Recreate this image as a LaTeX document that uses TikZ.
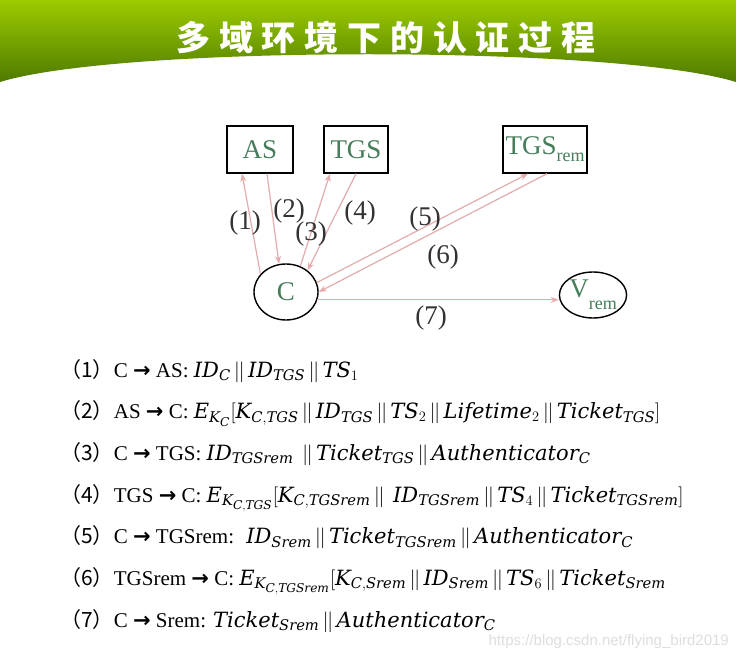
\documentclass[tikz,border=0pt]{standalone}
\usepackage{fontspec}
\setmainfont{Liberation Serif}
\newfontfamily\cjk{Noto Sans CJK SC}
\newfontfamily\symf{DejaVu Sans}
\newfontfamily\wmf{Liberation Sans}
\newfontfamily\dvs{DejaVu Serif}[NFSSFamily=dvsf]
\DeclareSymbolFont{dvsit}{TU}{dvsf}{m}{it}
\DeclareSymbolFont{dvsup}{TU}{dvsf}{m}{n}
\DeclareMathSymbol{A}{\mathalpha}{dvsit}{`A}
\DeclareMathSymbol{C}{\mathalpha}{dvsit}{`C}
\DeclareMathSymbol{D}{\mathalpha}{dvsit}{`D}
\DeclareMathSymbol{E}{\mathalpha}{dvsit}{`E}
\DeclareMathSymbol{G}{\mathalpha}{dvsit}{`G}
\DeclareMathSymbol{I}{\mathalpha}{dvsit}{`I}
\DeclareMathSymbol{K}{\mathalpha}{dvsit}{`K}
\DeclareMathSymbol{L}{\mathalpha}{dvsit}{`L}
\DeclareMathSymbol{S}{\mathalpha}{dvsit}{`S}
\DeclareMathSymbol{T}{\mathalpha}{dvsit}{`T}
\DeclareMathSymbol{a}{\mathalpha}{dvsit}{`a}
\DeclareMathSymbol{c}{\mathalpha}{dvsit}{`c}
\DeclareMathSymbol{e}{\mathalpha}{dvsit}{`e}
\DeclareMathSymbol{f}{\mathalpha}{dvsit}{`f}
\DeclareMathSymbol{h}{\mathalpha}{dvsit}{`h}
\DeclareMathSymbol{i}{\mathalpha}{dvsit}{`i}
\DeclareMathSymbol{k}{\mathalpha}{dvsit}{`k}
\DeclareMathSymbol{m}{\mathalpha}{dvsit}{`m}
\DeclareMathSymbol{n}{\mathalpha}{dvsit}{`n}
\DeclareMathSymbol{o}{\mathalpha}{dvsit}{`o}
\DeclareMathSymbol{r}{\mathalpha}{dvsit}{`r}
\DeclareMathSymbol{t}{\mathalpha}{dvsit}{`t}
\DeclareMathSymbol{u}{\mathalpha}{dvsit}{`u}
\DeclareMathSymbol{1}{\mathalpha}{dvsup}{`1}
\DeclareMathSymbol{2}{\mathalpha}{dvsup}{`2}
\DeclareMathSymbol{4}{\mathalpha}{dvsup}{`4}
\DeclareMathSymbol{6}{\mathalpha}{dvsup}{`6}
\renewcommand\defaultscriptscriptratio{.58}
\usetikzlibrary{arrows.meta,shapes.geometric}
\definecolor{hgtop}{RGB}{157,204,0}
\definecolor{hgbot}{RGB}{78,122,0}
\definecolor{nodegreen}{RGB}{70,125,90}
\definecolor{pinkc}{RGB}{228,172,172}
\definecolor{labgray}{RGB}{50,50,50}
\definecolor{wmgray}{RGB}{222,222,222}
\newcommand{\arr}{{\symf\bfseries →}}
\newcommand{\tsp}{\hspace{8.8pt}}
\newcommand{\vb}{\mathrel{\mkern-2mu|\mkern-1mu|\mkern-2mu}}
\begin{document}
\begin{tikzpicture}[x=1pt,y=-1pt,
  box/.style={draw, line width=1.4pt, minimum height=47pt, inner sep=0pt,
    font=\fontsize{27}{29}\selectfont, text=nodegreen},
  oval/.style={draw, ellipse, line width=1.4pt, inner sep=0pt,
    font=\fontsize{27}{29}\selectfont, text=nodegreen},
  msg/.style={draw=pinkc, line width=1.2pt, -{Stealth[length=8pt,width=6pt]}},
  lab/.style={font=\fontsize{27}{30}\selectfont, text=labgray},
  stepline/.style={anchor=base west, inner sep=0pt, font=\fontsize{21}{25}\selectfont}
]
\useasboundingbox (0,0) rectangle (736,660);
\fill[white] (0,0) rectangle (736,660);
% header
\shade[top color=hgtop, bottom color=hgbot]
  (0,0) -- (736,0) -- (736,82) .. controls (616,45) and (120,45) .. (0,82) -- cycle;
\node[font=\cjk\bfseries\fontsize{34}{36}\selectfont, text=white, inner sep=0pt] (title) at (386,37)
  {多\tsp 域\tsp 环\tsp 境\tsp 下\tsp 的\tsp 认\tsp 证\tsp 过\tsp 程};
% nodes
\node[box, minimum width=66pt] (AS) at (260,149.5) {AS};
\node[box, minimum width=64pt] (TGS) at (356,149.5) {TGS};
\node[box, minimum width=84pt] (TGSrem) at (545,149.5) {TGS\raisebox{-7pt}{\fontsize{18}{18}\selectfont rem}};
\node[oval, minimum width=64pt, minimum height=56pt] (C) at (286,292) {C};
\node[oval, minimum width=64pt, minimum height=46pt] (Vrem) at (593,295) {V\raisebox{-12pt}{\fontsize{18}{18}\selectfont rem}};
% connectors
\draw[msg] (C.145) -- ([xshift=-18pt]AS.south);
\draw[msg] ([xshift=7pt]AS.south) -- (C.104);
\draw[msg] (C.61) -- ([xshift=-26pt]TGS.south);
\draw[msg] (TGS.south) -- (C.45);
\draw[msg] (C.17) -- ([xshift=-17pt]TGSrem.south);
\draw[msg] ([xshift=2pt]TGSrem.south) -- (C.0);
\draw[msg] (C.-14) -- (C.-14 -| Vrem.west);
% labels
\node[lab] (l1) at (245,223) {(1)};
\node[lab] (l2) at (289,211) {(2)};
\node[lab] (l3) at (311,234) {(3)};
\node[lab] (l4) at (360,213) {(4)};
\node[lab] (l5) at (425,219) {(5)};
\node[lab] (l6) at (443,257) {(6)};
\node[lab] (l7) at (431,318) {(7)};
% steps
\node[stepline] (s1) at (60,377) {{\cjk （1）}C \arr{} AS: $ID_C\vb ID_{TGS}\vb TS_1$};
\node[stepline] (s2) at (60,418.5) {{\cjk （2）}AS \arr{} C: $E_{K_C}[K_{C,TGS}\vb ID_{TGS}\vb TS_2\vb Lifetime_2\vb Ticket_{TGS}]$};
\node[stepline] (s3) at (60,460) {{\cjk （3）}C \arr{} TGS: $ID_{TGSrem}\ \vb Ticket_{TGS}\vb Authenticator_C$};
\node[stepline] (s4) at (60,502) {{\cjk （4）}TGS \arr{} C: $E_{K_{C,TGS}}[K_{C,TGSrem}\vb\ ID_{TGSrem}\vb TS_4\vb Ticket_{TGSrem}]$};
\node[stepline] (s5) at (60,543.5) {{\cjk （5）}C \arr{} TGSrem: \ $ID_{Srem}\vb Ticket_{TGSrem}\vb Authenticator_C$};
\node[stepline] (s6) at (60,585) {{\cjk （6）}TGSrem \arr{} C: $E_{K_{C,TGSrem}}[K_{C,Srem}\vb ID_{Srem}\vb TS_6\vb Ticket_{Srem}$};
\node[stepline] (s7) at (60,627) {{\cjk （7）}C \arr{} Srem: $Ticket_{Srem}\vb Authenticator_C$};
% watermark
\node[anchor=base east, inner sep=0pt, font=\wmf\fontsize{15}{17}\selectfont, text=wmgray] (wm) at (729,645) {https://blog.csdn.net/flying\_bird2019};
\end{tikzpicture}
\end{document}
